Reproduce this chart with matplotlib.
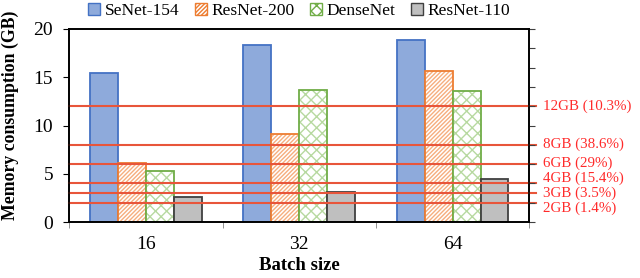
import numpy as np
import matplotlib
matplotlib.use("Agg")
import matplotlib.pyplot as plt
from matplotlib.patches import Patch

plt.rcParams['font.family'] = ['Liberation Serif', 'DejaVu Serif']
plt.rcParams['hatch.linewidth'] = 1.0

batch_sizes = ['16', '32', '64']
models = ['SeNet-154', 'ResNet-200', 'DenseNet', 'ResNet-110']
senet = [15.4, 18.3, 18.9]
resnet200 = [6.1, 9.1, 15.6]
densenet = [5.3, 13.7, 13.6]
resnet110 = [2.6, 3.1, 4.5]

gpu_mem = [12, 8, 6, 4, 3, 2]
gpu_labels = ['12GB (10.3%)', '8GB (38.6%)', '6GB (29%)', '4GB (15.4%)', '3GB (3.5%)', '2GB (1.4%)']
label_y = [12, 8.1, 6.1, 4.55, 3.0, 1.45]

fig = plt.figure(figsize=(6.4, 2.78), dpi=100)
ax = fig.add_axes([0.108, 0.201, 0.719, 0.695])

x = np.arange(len(batch_sizes))
w = 0.182
offs = [-1.5 * w, -0.5 * w, 0.5 * w, 1.5 * w]

ax.bar(x + offs[0], senet, w, color='#8eaadb', edgecolor='#4472c4', linewidth=1.3, zorder=2)
ax.bar(x + offs[1], resnet200, w, color='white', edgecolor='#f6ae7e', hatch='////////', linewidth=0, zorder=2)
ax.bar(x + offs[1], resnet200, w, color='none', edgecolor='#ed7d31', linewidth=1.3, zorder=2)
ax.bar(x + offs[2], densenet, w, color='white', edgecolor='#b7d9a0', hatch='xxx', linewidth=0, zorder=2)
ax.bar(x + offs[2], densenet, w, color='none', edgecolor='#70ad47', linewidth=1.3, zorder=2)
ax.bar(x + offs[3], resnet110, w, color='#bfbfbf', edgecolor='#404040', linewidth=1.3, zorder=2)

for y, lab, ly in zip(gpu_mem, gpu_labels, label_y):
    ax.axhline(y, xmin=0, xmax=1.014, color='#e8553a', linewidth=1.5, clip_on=False, zorder=3)
    ax.text(1.03, ly, lab, transform=ax.get_yaxis_transform(), color='#ff2a2a',
            fontsize=10.8, va='center', ha='left')

ax.set_xlim(-0.5, 2.5)
ax.set_ylim(0, 20)
ax.set_yticks([0, 5, 10, 15, 20])
ax.set_xticks(x)
ax.set_xticklabels(batch_sizes)
ax.set_xticks([-0.5, 0.5, 1.5, 2.5], minor=True)
ax.tick_params(axis='x', which='major', length=0, pad=10, labelsize=14)
ax.tick_params(axis='x', which='minor', length=4.5, direction='out', color='#808080')
ax.tick_params(axis='y', length=4.5, direction='out', labelsize=14, pad=7)

ax2 = ax.twinx()
ax2.set_ylim(0, 20)
ax2.set_yticks(np.arange(0, 21, 2))
ax2.tick_params(axis='y', length=4.5, direction='out', labelright=False, color='#404040')

for a in (ax, ax2):
    for s in a.spines.values():
        s.set_color('black')
        s.set_linewidth(1.2)

ax.set_ylabel('Memory consumption (GB)', fontsize=12.8, fontweight='bold')
ax.yaxis.set_label_coords(-0.108, 0.555)
ax.set_xlabel('Batch size', fontsize=13.5, fontweight='bold', labelpad=3)

handles = [
    Patch(facecolor='#8eaadb', edgecolor='#4472c4'),
    Patch(facecolor='white', edgecolor='#ed7d31', hatch='////////'),
    Patch(facecolor='white', edgecolor='#70ad47', hatch='xxx'),
    Patch(facecolor='#bfbfbf', edgecolor='#404040'),
]
ax.legend(handles, models, loc='lower center', bbox_to_anchor=(0.5, 0.995), ncol=4,
          frameon=False, fontsize=12.5, handlelength=0.7, handleheight=0.7,
          handletextpad=0.25, columnspacing=0.9, borderpad=0.1)

fig.savefig('out.png', dpi=100)
